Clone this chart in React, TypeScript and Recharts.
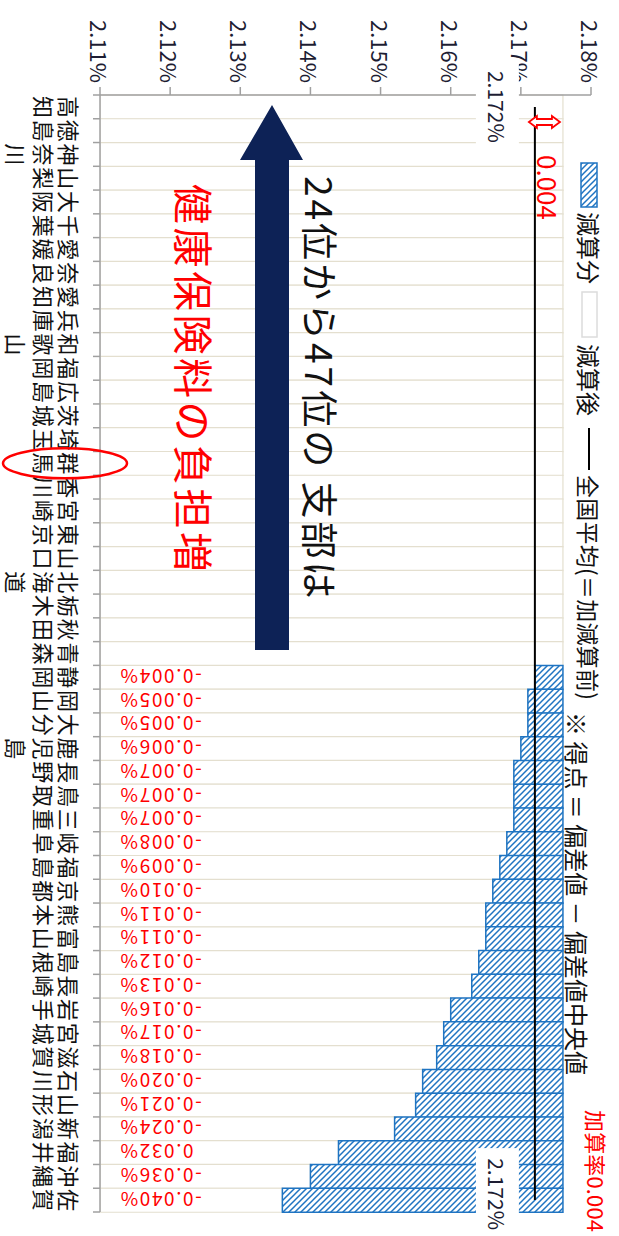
import React from 'react';
import { ComposedChart, Bar, Line, XAxis, YAxis, LabelList } from 'recharts';

// ---------------- data ----------------
const prefectures = [
  '高知', '徳島', '神奈川', '山梨', '大阪', '千葉', '愛媛', '奈良', '愛知', '兵庫',
  '和歌山', '福岡', '広島', '茨城', '埼玉', '群馬', '香川', '宮崎', '東京', '山口',
  '北海道', '栃木', '秋田', '青森', '静岡', '岡山', '大分', '鹿児島', '長野', '鳥取',
  '三重', '岐阜', '福島', '京都', '熊本', '富山', '島根', '長崎', '岩手', '宮城',
  '滋賀', '石川', '山形', '新潟', '福井', '沖縄', '佐賀',
];

// 減算分 (reduction, in % points)
const reductions = [
  0, 0, 0, 0, 0, 0, 0, 0, 0, 0,
  0, 0, 0, 0, 0, 0, 0, 0, 0, 0,
  0, 0, 0, 0, 0.004, 0.005, 0.005, 0.006, 0.007, 0.007,
  0.007, 0.008, 0.009, 0.010, 0.011, 0.011, 0.012, 0.013, 0.016, 0.017,
  0.018, 0.020, 0.021, 0.024, 0.032, 0.036, 0.040,
];

const reductionLabels = [
  '-0.004%', '-0.005%', '-0.005%', '-0.006%', '-0.007%', '-0.007%', '-0.007%', '-0.008%',
  '-0.009%', '-0.010%', '-0.011%', '-0.011%', '-0.012%', '-0.013%', '-0.016%', '-0.017%',
  '-0.018%', '-0.020%', '-0.021%', '-0.024%', '0.032%', '-0.036%', '-0.040%',
];

const valueTicks = [2.11, 2.12, 2.13, 2.14, 2.15, 2.16, 2.17, 2.18];
const axisMin = 2.11;
const axisMax = 2.18;
const nationalAverage = 2.172;
const addRate = 0.004;
const preAdjusted = nationalAverage + addRate;

// ---------------- layout ----------------
const W = 1236;
const H = 619;
const MARGIN = { top: 28, right: 24, bottom: 0, left: 0 };
const Y_AXIS_W = 95;
const X_AXIS_H = 100;
const PLOT_L = MARGIN.left + Y_AXIS_W;
const PLOT_R = W - MARGIN.right;
const PLOT_T = MARGIN.top;
const PLOT_B = H - MARGIN.bottom - X_AXIS_H;
const BAND = (PLOT_R - PLOT_L) / prefectures.length;
const yOf = (v: number) => PLOT_B - ((v - axisMin) / (axisMax - axisMin)) * (PLOT_B - PLOT_T);

const FONT = '"Noto Sans CJK JP", "Noto Sans", sans-serif';
const AXIS_COLOR = '#a0a0a0';
const HATCH_BLUE = '#1f74c2';
const BEIGE = '#e4dfcf';
const TEXT_DARK = '#1d1d33';

const firstCut = reductions.findIndex((r) => r > 0);

const data = prefectures.map((name, i) => {
  const r = reductions[i];
  const lower = +(preAdjusted - r).toFixed(4);
  return {
    name,
    after: [axisMin, lower],
    cut: [lower, +preAdjusted.toFixed(4)],
    avg: nationalAverage,
    label: r > 0 ? reductionLabels[i - firstCut] : '',
  };
});

// ---------------- custom parts ----------------
const CHAR_OFFSETS = [30, 55, 83];

function CategoryTick(props: any) {
  const { x, payload } = props;
  const index = props.index ?? payload.index;
  const chars = String(payload.value).split('');
  const last = index === prefectures.length - 1;
  return (
    <g>
      <line x1={x - BAND / 2} x2={x - BAND / 2} y1={PLOT_B} y2={PLOT_B + 7} stroke={AXIS_COLOR} strokeWidth={1.5} />
      {last && (
        <line x1={x + BAND / 2} x2={x + BAND / 2} y1={PLOT_B} y2={PLOT_B + 7} stroke={AXIS_COLOR} strokeWidth={1.5} />
      )}
      {chars.map((c, k) => (
        <text
          key={k}
          x={x}
          y={PLOT_B + CHAR_OFFSETS[k]}
          textAnchor="middle"
          dominantBaseline="central"
          fontSize={22}
          fontFamily={FONT}
          fill="#111"
        >
          {c}
        </text>
      ))}
    </g>
  );
}

function ValueTick(props: any) {
  const { x, y, payload } = props;
  return (
    <text x={x} y={y} textAnchor="end" dominantBaseline="central" fontSize={22} fontFamily={FONT} fill={TEXT_DARK}>
      {Number(payload.value).toFixed(2)}%
    </text>
  );
}

function CutLabel(props: any) {
  const { x, y, width, height, index } = props;
  const text = data[index]?.label;
  if (!text) return null;
  const cx = x + width / 2;
  const ay = y + height - 19;
  return (
    <text
      x={cx}
      y={ay}
      transform={`rotate(90, ${cx}, ${ay})`}
      textAnchor="end"
      dominantBaseline="central"
      fontSize={19}
      letterSpacing={1.6}
      fontFamily={FONT}
      fill="#ff0000"
    >
      {text}
    </text>
  );
}

function AvgLabel(props: any) {
  const { x, y, index } = props;
  const isFirst = index === 0;
  const isLast = index === prefectures.length - 1;
  if (!isFirst && !isLast) return null;
  const cx = isLast ? x - 6 : x;
  return (
    <g>
      <rect x={cx - 46} y={y + 16} width={isLast ? 98 : 92} height={43} fill="#ffffff" />
      <text x={cx} y={y + 38} textAnchor="middle" dominantBaseline="central" fontSize={21} fontFamily={FONT} fill={TEXT_DARK}>
        {nationalAverage.toFixed(3)}%
      </text>
    </g>
  );
}

function Overlay() {
  const yTop = yOf(preAdjusted);
  const yAvg = yOf(nationalAverage);
  return (
    <svg width={W} height={H} style={{ position: 'absolute', left: 0, top: 0, pointerEvents: 'none' }}>
      <defs>
        <pattern id="hatch" patternUnits="userSpaceOnUse" width="6" height="6">
          <rect width="6" height="6" fill="#ffffff" />
          <path d="M0,0 L6,6 M-3,3 L3,9 M3,-3 L9,3" stroke={HATCH_BLUE} strokeWidth="1.5" />
        </pattern>
      </defs>

      {/* legend */}
      <rect x={163} y={22} width={44} height={16} fill="url(#hatch)" stroke={HATCH_BLUE} strokeWidth={1.5} />
      <text x={212} y={30} dominantBaseline="central" fontSize={24} fontFamily={FONT} fill="#111">減算分</text>
      <rect x={292} y={22} width={45} height={15} fill="#ffffff" stroke="#dcdcdc" strokeWidth={1.5} />
      <text x={344} y={30} dominantBaseline="central" fontSize={24} fontFamily={FONT} fill="#111">減算後</text>
      <line x1={428} x2={470} y1={30} y2={30} stroke="#000" strokeWidth={2} />
      <text x={475} y={30} dominantBaseline="central" fontSize={23} fontFamily={FONT} fill="#111" textLength={225}>
        全国平均(＝加減算前)
      </text>
      <text x={712} y={42} dominantBaseline="central" fontSize={24} fontFamily={FONT} fill="#111" textLength={363}>
        ※ 得点 ＝ 偏差値 － 偏差値中央値
      </text>
      <text x={1110} y={22} dominantBaseline="central" fontSize={22} fontFamily={FONT} fill="#ff0000" textLength={122}>
        加算率0.004
      </text>

      {/* red double arrow: 加算率 */}
      <path
        d={`M122,${yTop + 3} L128,${yTop + 11} L125,${yTop + 11} L125,${yAvg - 2} L128,${yAvg - 2} L122,${yAvg + 6} L116,${yAvg - 2} L119,${yAvg - 2} L119,${yTop + 11} L116,${yTop + 11} Z`}
        fill="#ffffff"
        stroke="#ff0000"
        strokeWidth={1.8}
      />
      <text x={155} y={71} dominantBaseline="central" fontSize={26} fontFamily={FONT} fill="#ff0000">
        0.004
      </text>

      {/* navy arrow */}
      <polygon points="105,347 160,316 160,330 650,330 650,364 160,364 160,379" fill="#0d2256" />
      <text x={176} y={298} dominantBaseline="central" fontSize={37} letterSpacing={3} fontFamily={FONT} fill="#111">
        24位から47位の 支部は
      </text>
      <text x={184} y={424} dominantBaseline="central" fontSize={40} fontFamily={FONT} fill="#ff0000" textLength={388}>
        健康保険料の負担増
      </text>

      {/* red ellipse around 群馬 */}
      <ellipse cx={PLOT_L + BAND * 15.5} cy={554} rx={15} ry={62} fill="none" stroke="#ff0000" strokeWidth={2.5} />
    </svg>
  );
}

export default function App() {
  return (
    <div
      style={{
        position: 'absolute',
        left: 0,
        top: 0,
        width: W,
        height: H,
        background: '#ffffff',
        transform: `translate(${H}px, 0px) rotate(90deg)`,
        transformOrigin: '0 0',
      }}
    >
      <ComposedChart width={W} height={H} data={data} margin={MARGIN} barCategoryGap={0} barGap={0}>
        <XAxis
          xAxisId="main"
          dataKey="name"
          type="category"
          interval={0}
          height={X_AXIS_H}
          tickLine={false}
          axisLine={{ stroke: AXIS_COLOR, strokeWidth: 1.5 }}
          tick={<CategoryTick />}
        />
        <XAxis xAxisId="overlay" dataKey="name" type="category" hide />
        <YAxis
          type="number"
          domain={[axisMin, axisMax]}
          ticks={valueTicks}
          allowDataOverflow
          width={Y_AXIS_W}
          tickSize={8}
          tickMargin={4}
          tickLine={{ stroke: AXIS_COLOR, strokeWidth: 1.5 }}
          axisLine={{ stroke: AXIS_COLOR, strokeWidth: 1.5 }}
          tick={<ValueTick />}
        />
        <Bar
          xAxisId="main"
          dataKey="after"
          name="減算後"
          fill="#ffffff"
          stroke={BEIGE}
          strokeWidth={1.2}
          isAnimationActive={false}
        >
          <LabelList dataKey="after" content={<CutLabel />} />
        </Bar>
        <Bar
          xAxisId="overlay"
          dataKey="cut"
          name="減算分"
          fill="url(#hatch)"
          stroke={HATCH_BLUE}
          strokeWidth={1.5}
          isAnimationActive={false}
        />
        <Line
          xAxisId="main"
          dataKey="avg"
          name="全国平均(＝加減算前)"
          stroke="#000000"
          strokeWidth={2}
          dot={false}
          isAnimationActive={false}
        >
          <LabelList dataKey="avg" content={<AvgLabel />} />
        </Line>
      </ComposedChart>
      <Overlay />
    </div>
  );
}
